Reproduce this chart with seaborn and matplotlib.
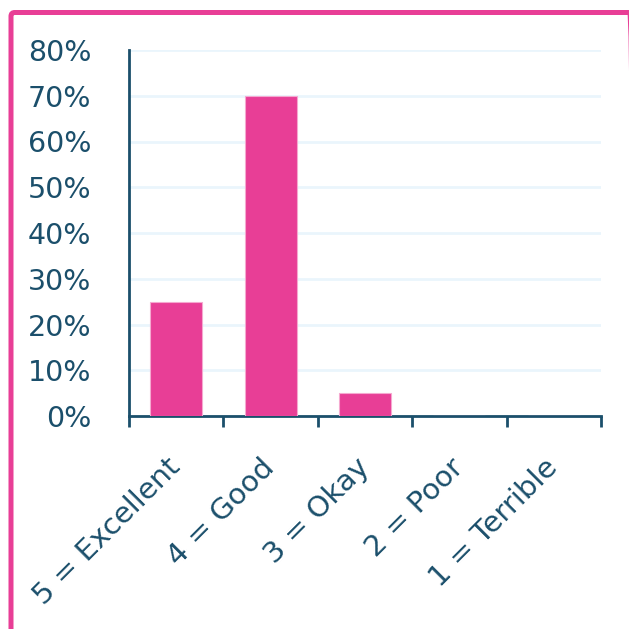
import matplotlib
matplotlib.use("Agg")
import matplotlib.pyplot as plt
import seaborn as sns
import pandas as pd
from matplotlib.patches import FancyBboxPatch
from matplotlib.ticker import PercentFormatter

# survey answers and share of respondents (%)
ratings = ["5 = Excellent", "4 = Good", "3 = Okay", "2 = Poor", "1 = Terrible"]
shares = [25, 70, 5, 0, 0]

pink = "#e83e96"
navy = "#1b4f6b"
grid_blue = "#eaf5fc"

sns.set_theme(style="white")
plt.rcParams["font.family"] = ["DejaVu Sans"]

df = pd.DataFrame({"rating": ratings, "share": shares})

fig = plt.figure(figsize=(6.29, 6.29), dpi=100)
ax = fig.add_axes([129 / 629, 1 - 416 / 629, 472 / 629, 366 / 629])

sns.barplot(data=df, x="rating", y="share", color=pink, width=0.55,
            edgecolor="#f5a9d0", linewidth=0.8, saturation=1, ax=ax, zorder=3)

ax.set_xlim(-0.5, len(ratings) - 0.5)
ax.set_ylim(0, 80)
ax.set_yticks(range(0, 81, 10))
ax.yaxis.set_major_formatter(PercentFormatter(decimals=0))
ax.grid(axis="y", color=grid_blue, linewidth=2, zorder=0)

# tick marks sit between categories, labels at the centres
ax.set_xticks([i - 0.5 for i in range(len(ratings) + 1)])
ax.set_xticklabels([])
ax.set_xticks(range(len(ratings)), minor=True)
ax.set_xticklabels(ratings, minor=True, rotation=45, ha="right", va="center",
                   rotation_mode="anchor", fontsize=21, color=navy)
ax.tick_params(axis="x", which="major", length=8, width=2, color=navy, bottom=True)
ax.tick_params(axis="x", which="minor", length=0, pad=34)
ax.tick_params(axis="y", length=0, pad=27, labelsize=20.5, labelcolor=navy)

for s in ["top", "right"]:
    ax.spines[s].set_visible(False)
for s in ["left", "bottom"]:
    ax.spines[s].set_color(navy)
    ax.spines[s].set_linewidth(2)

ax.set_xlabel("")
ax.set_ylabel("")

# pink frame around the card, running off the bottom and right edges
frame = FancyBboxPatch((11 / 629, -0.1), (633.5 - 11) / 629, 1.1 - 12.5 / 629,
                       boxstyle="round,pad=0,rounding_size=0.006",
                       transform=fig.transFigure, facecolor="none",
                       edgecolor=pink, linewidth=3.6, clip_on=False)
fig.patches.append(frame)

fig.savefig("out.png", dpi=100)
